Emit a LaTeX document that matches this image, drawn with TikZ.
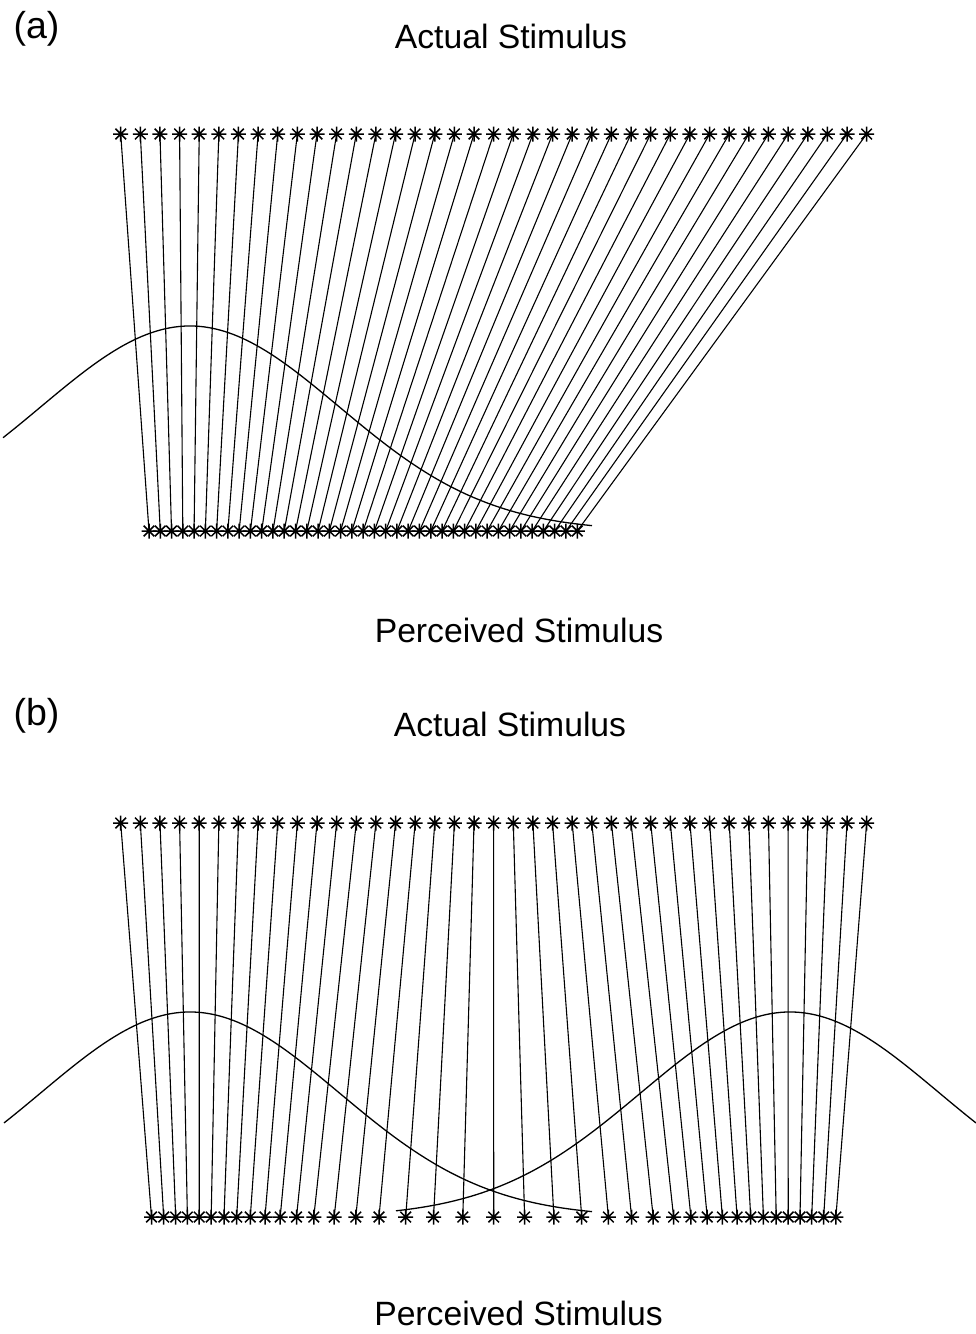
\documentclass[tikz,border=0pt]{standalone}
\usepackage{fontspec}
\setmainfont{Liberation Sans}
\begin{document}
\begin{tikzpicture}[x=1pt,y=-1pt,
  conn/.style={line width=1.1pt},
  curve/.style={line width=1.3pt},
  lbl/.style={font=\fontsize{33.7}{40}\selectfont, inner sep=0pt, anchor=base},
  panellbl/.style={font=\fontsize{37.5}{44}\selectfont, inner sep=0pt, anchor=base}]
\useasboundingbox (0,0) rectangle (976,1334);
\newcommand\astmark[1]{\draw[line width=1.5pt] (#1) +(-7.5,0) -- +(7.5,0) (#1) +(0,-7.5) -- +(0,7.5) (#1) +(-5.3,-5.3) -- +(5.3,5.3) (#1) +(-5.3,5.3) -- +(5.3,-5.3);}
% ---------- panel (a)
\foreach \i in {1,...,39}{
  \coordinate (at\i) at ({120.7+(\i-1)*19.63},134);
  \coordinate (ab\i) at ({149+(\i-1)*11.27},531);
}
\foreach \i in {1,...,39}{
  \draw[conn] (at\i) -- (ab\i);
  \astmark{at\i}
  \astmark{ab\i}
}
\draw[curve] plot[domain=3:592, samples=150, smooth] (\x, {531-205*exp(-0.5*((\x-190)/149)^2)});
% ---------- panel (b)
\foreach \i in {1,...,39}{
  \coordinate (bt\i) at ({120.7+(\i-1)*19.63},823);
}
\foreach \o [count=\k from 0] in {0,30.9,60.2,88,114.7,137.9,159.5,179.9,197.2,213.5,228.7,243.4,257,269.7,282.5,294.5,306.3,318,330,342.2}{
  \pgfmathtruncatemacro\ir{20+\k}
  \pgfmathtruncatemacro\il{20-\k}
  \coordinate (bb\ir) at ({493.7+\o},1217);
  \coordinate (bb\il) at ({493.7-\o},1217);
}
\foreach \i in {1,...,39}{
  \draw[conn] (bt\i) -- (bb\i);
  \astmark{bt\i}
  \astmark{bb\i}
}
\draw[curve] plot[domain=4:592, samples=150, smooth] (\x, {1217-205*exp(-0.5*((\x-190)/149)^2)});
\draw[curve] plot[domain=396:976, samples=150, smooth] (\x, {1217-205*exp(-0.5*((\x-790)/149)^2)});
% ---------- labels
\node[panellbl] (la) at (36.5,38) {(a)};
\node[lbl] (acta) at (511,48) {Actual Stimulus};
\node[lbl] (pera) at (519,642) {Perceived Stimulus};
\node[panellbl] (lb) at (36.5,725) {(b)};
\node[lbl] (actb) at (510,736) {Actual Stimulus};
\node[lbl] (perb) at (518.5,1325) {Perceived Stimulus};
\end{tikzpicture}
\end{document}
